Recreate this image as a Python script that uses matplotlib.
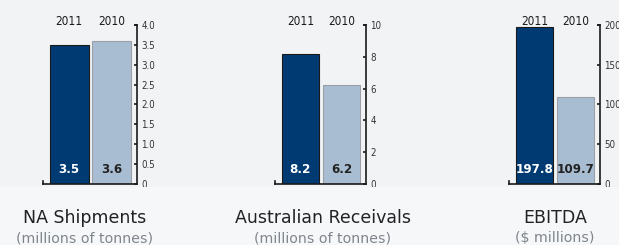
import matplotlib
matplotlib.use('Agg')
import matplotlib.pyplot as plt
from matplotlib.patches import Rectangle

years = ['2011', '2010']
titles = ['NA Shipments', 'Australian Receivals', 'EBITDA']
subtitles = ['(millions of tonnes)', '(millions of tonnes)', '($ millions)']
values = [[3.5, 3.6], [8.2, 6.2], [197.8, 109.7]]
value_labels = [['3.5', '3.6'], ['8.2', '6.2'], ['197.8', '109.7']]
yticks = [[0, 0.5, 1.0, 1.5, 2.0, 2.5, 3.0, 3.5, 4.0],
          [0, 2, 4, 6, 8, 10],
          [0, 50, 100, 150, 200]]
ytick_labels = [['0', '0.5', '1.0', '1.5', '2.0', '2.5', '3.0', '3.5', '4.0'],
                ['0', '2', '4', '6', '8', '10'],
                ['0', '50', '100', '150', '200']]

W, H = 619, 245
dark = '#003a73'
light = '#a9bdd2'
narrow = dict(family='DejaVu Sans', stretch='condensed')

fig = plt.figure(figsize=(W / 100, H / 100), dpi=100)
fig.patch.set_facecolor('#f1f3f5')
fig.patches.append(Rectangle((0, 0), 1, (H - 187) / H, transform=fig.transFigure,
                             facecolor='#f6f7f9', edgecolor='none', zorder=0))

# pixel boxes: left of baseline, y axis x, center of title
boxes = [(43, 137, 85), (275, 366, 323), (509, 600, 555)]
top_px, base_px = 25, 184

for i, (x0, x1, tc) in enumerate(boxes):
    ax = fig.add_axes([x0 / W, (H - base_px) / H, (x1 - x0) / W, (base_px - top_px) / H])
    ax.set_facecolor('none')
    edges = ['#1a1a1a', '#9aa0a8']
    ymax = yticks[i][-1]
    for j, v in enumerate(values[i]):
        ax.bar(j, v, width=0.92, color=[dark, light][j], edgecolor=edges[j], linewidth=0.8)
        ax.text(j, ymax * 0.09, value_labels[i][j], ha='center', va='center',
                fontsize=9.5, fontweight='bold', **narrow,
                color='white' if j == 0 else '#222222')
        ax.text(j, ymax * 1.003, years[j], ha='center', va='baseline', fontsize=8.5,
                **narrow, color='#1a1a1a', zorder=5)
    ax.set_xlim(-0.62, 1.6)
    ax.set_ylim(0, ymax)
    for s in ['top', 'left']:
        ax.spines[s].set_visible(False)
    for s in ['right', 'bottom']:
        ax.spines[s].set_linewidth(1.2)
        ax.spines[s].set_color('#1a1a1a')
    ax.set_xticks([])
    ax.yaxis.tick_right()
    ax.set_yticks(yticks[i])
    ax.set_yticklabels(ytick_labels[i], fontsize=7, **narrow)
    ax.tick_params(axis='y', direction='in', length=2.5, width=1.2, pad=3, colors='#1a1a1a',
                   labelcolor='#333333')
    # little hooks at the ends of the axis lines
    ax.plot([-0.62, -0.62], [0, ymax * 0.02], color='#1a1a1a', lw=1.2, clip_on=False)
    ax.plot([1.56, 1.6], [ymax, ymax], color='#1a1a1a', lw=1.2, clip_on=False)

    fig.text(tc / W, (H - 218) / H, titles[i], ha='center', va='center', fontsize=12.5,
             color='#222222')
    fig.text(tc / W, (H - 238) / H, subtitles[i], ha='center', va='center', fontsize=10.2,
             color='#80858c')

fig.savefig('out.png', dpi=100, facecolor=fig.get_facecolor())
